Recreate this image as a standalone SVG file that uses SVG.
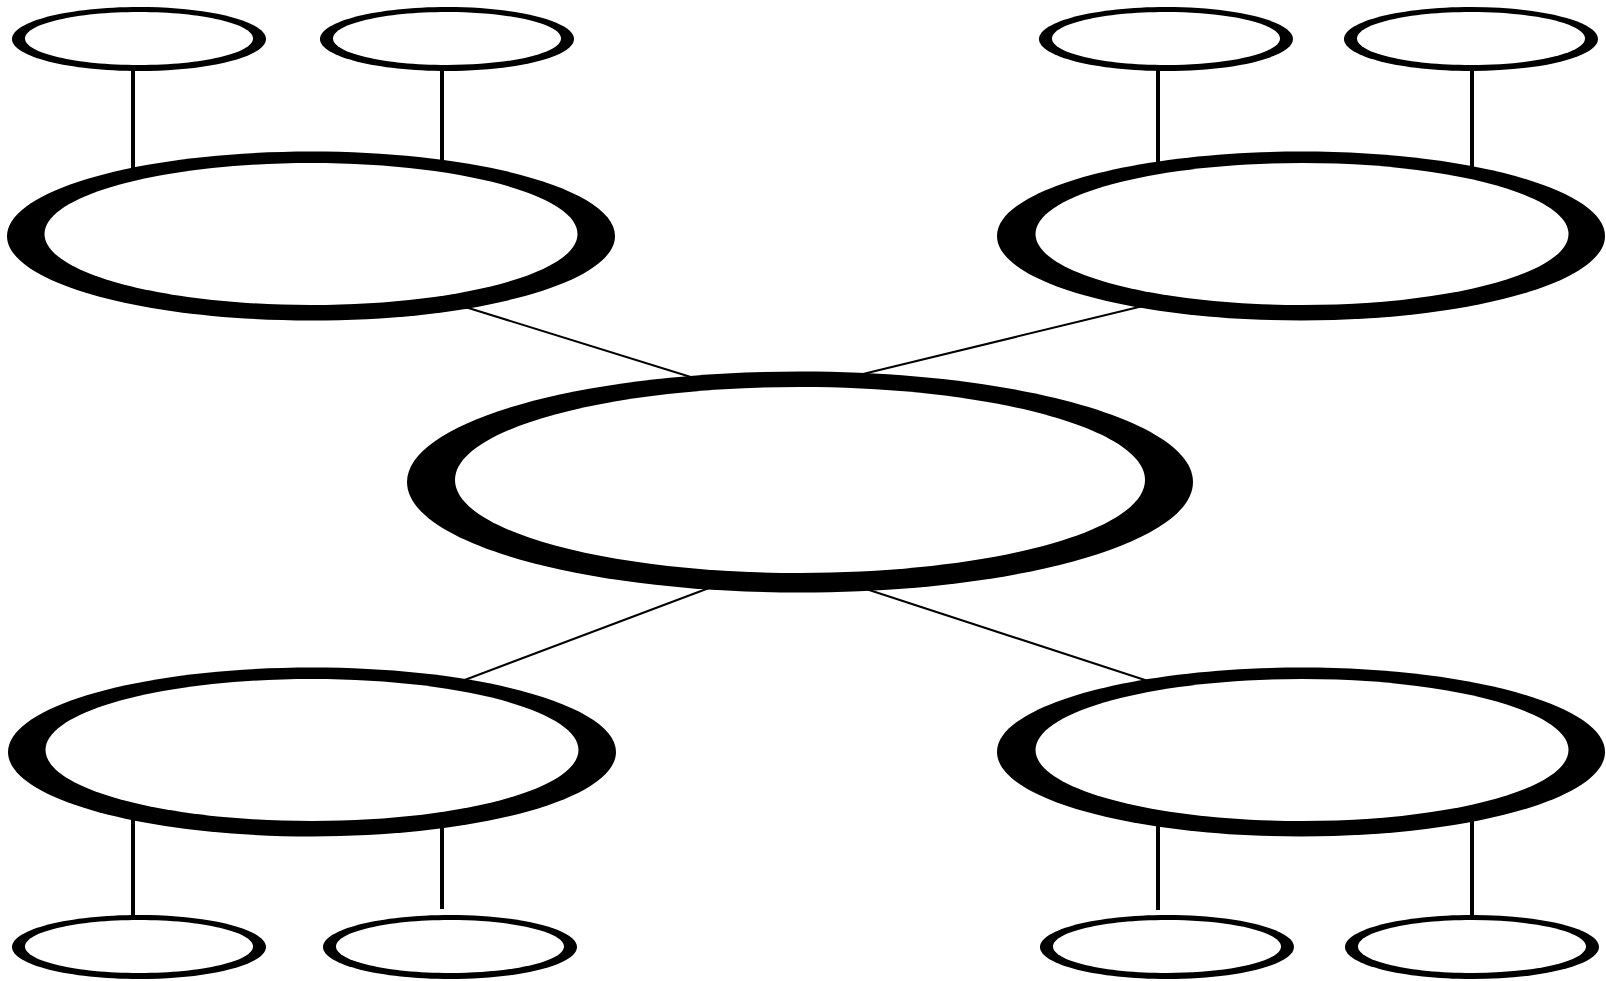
<svg xmlns="http://www.w3.org/2000/svg" width="1606" height="981" viewBox="0 0 1606 981">
<style>
.o{fill:#000}
.i{fill:#fff}
.v{stroke:#000;stroke-width:4;fill:none}
.d{stroke:#000;stroke-width:2;fill:none}
</style>
<rect width="1606" height="981" fill="#fff"/>
<g id="connectors">
<line class="v" x1="133" y1="70" x2="133" y2="170"/>
<line class="v" x1="442" y1="70" x2="442" y2="162"/>
<line class="v" x1="1158" y1="70" x2="1158" y2="164"/>
<line class="v" x1="1472" y1="70" x2="1472" y2="167"/>
<line class="v" x1="133" y1="818" x2="133" y2="916"/>
<line class="v" x1="442" y1="822" x2="442" y2="909"/>
<line class="v" x1="1158" y1="822" x2="1158" y2="910"/>
<line class="v" x1="1472" y1="818" x2="1472" y2="916"/>
<line class="d" x1="462" y1="306" x2="694" y2="378"/>
<line class="d" x1="863" y1="374" x2="1143" y2="306"/>
<line class="d" x1="462" y1="681" x2="709" y2="588"/>
<line class="d" x1="863" y1="588" x2="1148" y2="681"/>
</g>
<g id="center">
<path class="o" d="M407,482 C407,420.97 582.95,371.5 800,371.5 C1017.05,371.5 1193,420.97 1193,482 C1193,543.03 1017.05,592.5 800,592.5 C582.95,592.5 407,543.03 407,482Z"/>
<path class="i" d="M455,480 C455,428.64 609.46,387 800,387 C990.54,387 1145,428.64 1145,480 C1145,531.36 990.54,573 800,573 C609.46,573 455,531.36 455,480Z"/>
</g>
<g id="big-tl">
<path class="o" d="M7,236 C7,189.33 143.1,151.5 311,151.5 C478.9,151.5 615,189.33 615,236 C615,282.67 478.9,320.5 311,320.5 C143.1,320.5 7,282.67 7,236Z"/>
<path class="i" d="M44.5,234 C44.5,194.79 163.81,163 311,163 C458.19,163 577.5,194.79 577.5,234 C577.5,273.21 458.19,305 311,305 C163.81,305 44.5,273.21 44.5,234Z"/>
</g>
<g id="big-tr">
<path class="o" d="M997,236 C997,189.33 1133.1,151.5 1301,151.5 C1468.9,151.5 1605,189.33 1605,236 C1605,282.67 1468.9,320.5 1301,320.5 C1133.1,320.5 997,282.67 997,236Z"/>
<path class="i" d="M1035.5,234 C1035.5,194.79 1154.81,163 1302,163 C1449.19,163 1568.5,194.79 1568.5,234 C1568.5,273.21 1449.19,305 1302,305 C1154.81,305 1035.5,273.21 1035.5,234Z"/>
</g>
<g id="big-bl">
<path class="o" d="M8,752 C8,705.33 144.1,667.5 312,667.5 C479.9,667.5 616,705.33 616,752 C616,798.67 479.9,836.5 312,836.5 C144.1,836.5 8,798.67 8,752Z"/>
<path class="i" d="M45.5,750 C45.5,710.79 164.81,679 312,679 C459.19,679 578.5,710.79 578.5,750 C578.5,789.21 459.19,821 312,821 C164.81,821 45.5,789.21 45.5,750Z"/>
</g>
<g id="big-br">
<path class="o" d="M997,752 C997,705.33 1133.1,667.5 1301,667.5 C1468.9,667.5 1605,705.33 1605,752 C1605,798.67 1468.9,836.5 1301,836.5 C1133.1,836.5 997,798.67 997,752Z"/>
<path class="i" d="M1035.5,750 C1035.5,710.79 1154.81,679 1302,679 C1449.19,679 1568.5,710.79 1568.5,750 C1568.5,789.21 1449.19,821 1302,821 C1154.81,821 1035.5,789.21 1035.5,750Z"/>
</g>
<g id="small-tl1">
<path class="o" d="M12,39 C12,21.33 68.86,7 139,7 C209.14,7 266,21.33 266,39 C266,56.67 209.14,71 139,71 C68.86,71 12,56.67 12,39Z"/>
<path class="i" d="M25,38.5 C25,23.87 76.04,12 139,12 C201.96,12 253,23.87 253,38.5 C253,53.13 201.96,65 139,65 C76.04,65 25,53.13 25,38.5Z"/>
</g>
<g id="small-tl2">
<path class="o" d="M320,39 C320,21.33 376.86,7 447,7 C517.14,7 574,21.33 574,39 C574,56.67 517.14,71 447,71 C376.86,71 320,56.67 320,39Z"/>
<path class="i" d="M333,38.5 C333,23.87 384.04,12 447,12 C509.96,12 561,23.87 561,38.5 C561,53.13 509.96,65 447,65 C384.04,65 333,53.13 333,38.5Z"/>
</g>
<g id="small-tr1">
<path class="o" d="M1039,39 C1039,21.33 1095.86,7 1166,7 C1236.14,7 1293,21.33 1293,39 C1293,56.67 1236.14,71 1166,71 C1095.86,71 1039,56.67 1039,39Z"/>
<path class="i" d="M1052,38.5 C1052,23.87 1103.04,12 1166,12 C1228.96,12 1280,23.87 1280,38.5 C1280,53.13 1228.96,65 1166,65 C1103.04,65 1052,53.13 1052,38.5Z"/>
</g>
<g id="small-tr2">
<path class="o" d="M1344,39 C1344,21.33 1400.86,7 1471,7 C1541.14,7 1598,21.33 1598,39 C1598,56.67 1541.14,71 1471,71 C1400.86,71 1344,56.67 1344,39Z"/>
<path class="i" d="M1357,38.5 C1357,23.87 1408.04,12 1471,12 C1533.96,12 1585,23.87 1585,38.5 C1585,53.13 1533.96,65 1471,65 C1408.04,65 1357,53.13 1357,38.5Z"/>
</g>
<g id="small-bl1">
<path class="o" d="M12,947 C12,929.33 68.86,915 139,915 C209.14,915 266,929.33 266,947 C266,964.67 209.14,979 139,979 C68.86,979 12,964.67 12,947Z"/>
<path class="i" d="M25,946.5 C25,931.87 76.04,920 139,920 C201.96,920 253,931.87 253,946.5 C253,961.13 201.96,973 139,973 C76.04,973 25,961.13 25,946.5Z"/>
</g>
<g id="small-bl2">
<path class="o" d="M323,947 C323,929.33 379.86,915 450,915 C520.14,915 577,929.33 577,947 C577,964.67 520.14,979 450,979 C379.86,979 323,964.67 323,947Z"/>
<path class="i" d="M336,946.5 C336,931.87 387.04,920 450,920 C512.96,920 564,931.87 564,946.5 C564,961.13 512.96,973 450,973 C387.04,973 336,961.13 336,946.5Z"/>
</g>
<g id="small-br1">
<path class="o" d="M1040,947 C1040,929.33 1096.86,915 1167,915 C1237.14,915 1294,929.33 1294,947 C1294,964.67 1237.14,979 1167,979 C1096.86,979 1040,964.67 1040,947Z"/>
<path class="i" d="M1053,946.5 C1053,931.87 1104.04,920 1167,920 C1229.96,920 1281,931.87 1281,946.5 C1281,961.13 1229.96,973 1167,973 C1104.04,973 1053,961.13 1053,946.5Z"/>
</g>
<g id="small-br2">
<path class="o" d="M1345,947 C1345,929.33 1401.86,915 1472,915 C1542.14,915 1599,929.33 1599,947 C1599,964.67 1542.14,979 1472,979 C1401.86,979 1345,964.67 1345,947Z"/>
<path class="i" d="M1358,946.5 C1358,931.87 1409.04,920 1472,920 C1534.96,920 1586,931.87 1586,946.5 C1586,961.13 1534.96,973 1472,973 C1409.04,973 1358,961.13 1358,946.5Z"/>
</g>
</svg>
